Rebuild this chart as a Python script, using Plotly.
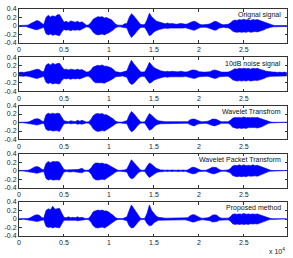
import plotly.graph_objects as go
from plotly.subplots import make_subplots

# sample index (every 250 samples)
sample_index = list(range(0, 30000, 250))

panel_titles = ["Orignal signal", "10dB noise signal", "Wavelet Transfrom",
                "Wavelet Packet Transform", "Proposed method"]

x_tick_vals = [0, 5000, 10000, 15000, 20000, 25000]
x_tick_text = ["0", "0.5", "1", "1.5", "2", "2.5"]
y_tick_vals = [-0.4, -0.2, 0, 0.2, 0.4]
y_tick_text = ["-0.4", "-0.2", "0", "0.2", "0.4"]

# upper / lower envelopes
orig_upper = [0.01,0.01,0.01,0.01,0.02,0.05,0.08,0.10,0.13,0.11,
              0.06,0.03,0.20,0.25,0.21,0.24,0.22,0.26,0.27,0.17,
              0.09,0.11,0.08,0.12,0.10,0.09,0.11,0.08,0.10,0.06,
              0.02,0.03,0.08,0.16,0.20,0.22,0.21,0.22,0.19,0.20,
              0.17,0.15,0.10,0.04,0.02,0.02,0.02,0.05,0.06,0.20,
              0.29,0.24,0.18,0.10,0.04,0.03,0.04,0.15,0.30,0.22,
              0.16,0.12,0.10,0.08,0.06,0.05,0.07,0.05,0.06,0.05,
              0.04,0.05,0.06,0.05,0.04,0.05,0.08,0.10,0.11,0.09,
              0.05,0.03,0.03,0.03,0.04,0.05,0.09,0.11,0.10,0.06,
              0.04,0.03,0.04,0.04,0.07,0.12,0.14,0.13,0.15,0.14,
              0.16,0.14,0.15,0.13,0.15,0.14,0.15,0.13,0.12,0.10,
              0.07,0.05,0.03,0.02,0.01,0.01,0.01,0.01,0.01,0.01]
orig_lower = [-0.01,-0.01,-0.01,-0.01,-0.02,-0.04,-0.06,-0.08,-0.09,-0.08,
              -0.05,-0.03,-0.18,-0.21,-0.19,-0.22,-0.20,-0.21,-0.23,-0.14,
              -0.08,-0.10,-0.09,-0.11,-0.09,-0.10,-0.09,-0.10,-0.08,-0.05,
              -0.02,-0.03,-0.07,-0.15,-0.19,-0.21,-0.20,-0.19,-0.21,-0.18,
              -0.16,-0.13,-0.09,-0.04,-0.02,-0.02,-0.02,-0.04,-0.05,-0.18,
              -0.27,-0.22,-0.17,-0.09,-0.04,-0.03,-0.04,-0.13,-0.23,-0.20,
              -0.14,-0.11,-0.09,-0.07,-0.06,-0.05,-0.06,-0.05,-0.05,-0.05,
              -0.04,-0.05,-0.05,-0.05,-0.04,-0.05,-0.07,-0.09,-0.10,-0.08,
              -0.05,-0.03,-0.03,-0.03,-0.04,-0.05,-0.08,-0.10,-0.09,-0.05,
              -0.04,-0.03,-0.04,-0.04,-0.07,-0.12,-0.14,-0.15,-0.14,-0.15,
              -0.14,-0.15,-0.13,-0.15,-0.14,-0.13,-0.14,-0.12,-0.11,-0.09,
              -0.06,-0.04,-0.03,-0.02,-0.01,-0.01,-0.01,-0.01,-0.01,-0.01]

noisy_upper = [0.04,0.05,0.04,0.05,0.05,0.07,0.09,0.11,0.12,0.11,
               0.07,0.06,0.21,0.25,0.22,0.26,0.23,0.25,0.26,0.18,
               0.11,0.12,0.10,0.12,0.11,0.10,0.12,0.10,0.11,0.08,
               0.05,0.06,0.10,0.17,0.20,0.21,0.20,0.22,0.19,0.19,
               0.17,0.15,0.11,0.06,0.05,0.04,0.05,0.06,0.08,0.22,
               0.33,0.25,0.19,0.11,0.06,0.05,0.06,0.16,0.28,0.22,
               0.16,0.13,0.10,0.08,0.07,0.06,0.07,0.06,0.07,0.06,
               0.06,0.06,0.07,0.06,0.05,0.06,0.08,0.10,0.10,0.09,
               0.06,0.05,0.05,0.05,0.05,0.06,0.09,0.10,0.09,0.07,
               0.05,0.05,0.05,0.05,0.07,0.11,0.13,0.12,0.14,0.13,
               0.14,0.13,0.14,0.12,0.14,0.13,0.14,0.12,0.11,0.09,
               0.07,0.06,0.05,0.05,0.05,0.04,0.05,0.04,0.05,0.04]
noisy_lower = [-0.04,-0.04,-0.05,-0.04,-0.05,-0.06,-0.07,-0.09,-0.10,-0.09,
               -0.07,-0.05,-0.19,-0.22,-0.20,-0.23,-0.21,-0.22,-0.23,-0.15,
               -0.10,-0.11,-0.10,-0.12,-0.10,-0.11,-0.10,-0.11,-0.09,-0.07,
               -0.05,-0.05,-0.09,-0.16,-0.20,-0.21,-0.20,-0.20,-0.21,-0.18,
               -0.16,-0.14,-0.10,-0.06,-0.05,-0.05,-0.04,-0.06,-0.07,-0.19,
               -0.24,-0.22,-0.17,-0.10,-0.06,-0.05,-0.06,-0.14,-0.21,-0.19,
               -0.14,-0.12,-0.10,-0.08,-0.07,-0.06,-0.07,-0.06,-0.06,-0.06,
               -0.05,-0.06,-0.06,-0.06,-0.05,-0.06,-0.08,-0.09,-0.10,-0.08,
               -0.06,-0.05,-0.05,-0.05,-0.05,-0.06,-0.08,-0.10,-0.09,-0.06,
               -0.05,-0.05,-0.05,-0.05,-0.08,-0.13,-0.15,-0.16,-0.15,-0.16,
               -0.15,-0.16,-0.14,-0.16,-0.15,-0.14,-0.15,-0.13,-0.12,-0.10,
               -0.07,-0.06,-0.05,-0.05,-0.04,-0.05,-0.04,-0.05,-0.04,-0.04]

wt_upper = [0.005,0.005,0.005,0.005,0.01,0.03,0.06,0.08,0.09,0.08,
            0.04,0.02,0.18,0.22,0.20,0.22,0.20,0.22,0.21,0.13,
            0.04,0.03,0.02,0.04,0.03,0.02,0.05,0.03,0.05,0.02,
            0.01,0.02,0.07,0.16,0.20,0.21,0.20,0.21,0.18,0.18,
            0.15,0.12,0.08,0.03,0.01,0.01,0.01,0.03,0.04,0.17,
            0.26,0.21,0.15,0.07,0.02,0.01,0.02,0.12,0.21,0.17,
            0.11,0.07,0.04,0.03,0.02,0.02,0.02,0.02,0.02,0.02,
            0.02,0.02,0.02,0.02,0.02,0.02,0.06,0.08,0.08,0.06,
            0.03,0.02,0.02,0.02,0.03,0.05,0.08,0.08,0.07,0.04,
            0.02,0.02,0.02,0.02,0.05,0.10,0.12,0.11,0.12,0.11,
            0.13,0.11,0.12,0.11,0.12,0.11,0.12,0.10,0.09,0.07,
            0.04,0.02,0.01,0.005,0.005,0.005,0.005,0.005,0.005,0.005]
wt_lower = [-0.005,-0.005,-0.005,-0.005,-0.01,-0.02,-0.04,-0.05,-0.06,-0.05,
            -0.03,-0.02,-0.16,-0.19,-0.18,-0.20,-0.19,-0.19,-0.21,-0.12,
            -0.03,-0.03,-0.02,-0.03,-0.03,-0.02,-0.04,-0.03,-0.04,-0.02,
            -0.01,-0.02,-0.06,-0.15,-0.19,-0.21,-0.20,-0.19,-0.20,-0.17,
            -0.14,-0.11,-0.07,-0.03,-0.01,-0.01,-0.01,-0.02,-0.03,-0.15,
            -0.22,-0.19,-0.14,-0.06,-0.02,-0.01,-0.02,-0.11,-0.18,-0.16,
            -0.10,-0.06,-0.04,-0.03,-0.02,-0.02,-0.02,-0.02,-0.02,-0.02,
            -0.02,-0.02,-0.02,-0.02,-0.02,-0.02,-0.05,-0.07,-0.08,-0.05,
            -0.03,-0.02,-0.02,-0.02,-0.03,-0.04,-0.07,-0.08,-0.07,-0.04,
            -0.02,-0.02,-0.02,-0.02,-0.05,-0.11,-0.13,-0.14,-0.13,-0.14,
            -0.13,-0.14,-0.12,-0.13,-0.12,-0.12,-0.13,-0.11,-0.10,-0.07,
            -0.04,-0.02,-0.01,-0.005,-0.005,-0.005,-0.005,-0.005,-0.005,-0.005]

wpt_upper = [0.005,0.005,0.005,0.005,0.01,0.03,0.07,0.09,0.10,0.08,
             0.04,0.02,0.17,0.22,0.19,0.22,0.21,0.22,0.20,0.12,
             0.03,0.02,0.02,0.03,0.02,0.02,0.03,0.04,0.06,0.02,
             0.01,0.02,0.06,0.14,0.18,0.18,0.17,0.18,0.16,0.16,
             0.13,0.10,0.07,0.03,0.01,0.01,0.01,0.02,0.04,0.17,
             0.26,0.20,0.14,0.06,0.02,0.01,0.02,0.11,0.18,0.15,
             0.10,0.06,0.04,0.02,0.02,0.01,0.02,0.01,0.02,0.01,
             0.01,0.02,0.01,0.02,0.01,0.02,0.06,0.08,0.08,0.05,
             0.02,0.01,0.01,0.01,0.03,0.05,0.08,0.08,0.07,0.03,
             0.01,0.01,0.01,0.02,0.05,0.11,0.13,0.12,0.14,0.12,
             0.14,0.12,0.13,0.12,0.14,0.12,0.13,0.11,0.09,0.07,
             0.04,0.02,0.01,0.005,0.005,0.005,0.005,0.005,0.005,0.005]
wpt_lower = [-0.005,-0.005,-0.005,-0.005,-0.01,-0.02,-0.04,-0.05,-0.06,-0.05,
             -0.03,-0.02,-0.18,-0.22,-0.20,-0.22,-0.21,-0.21,-0.22,-0.13,
             -0.03,-0.02,-0.02,-0.03,-0.02,-0.02,-0.03,-0.04,-0.05,-0.02,
             -0.01,-0.02,-0.07,-0.17,-0.21,-0.22,-0.21,-0.20,-0.21,-0.18,
             -0.15,-0.11,-0.07,-0.03,-0.01,-0.01,-0.01,-0.02,-0.03,-0.14,
             -0.19,-0.17,-0.12,-0.05,-0.02,-0.01,-0.02,-0.10,-0.16,-0.14,
             -0.09,-0.05,-0.03,-0.02,-0.02,-0.01,-0.02,-0.01,-0.02,-0.01,
             -0.01,-0.02,-0.01,-0.02,-0.01,-0.02,-0.05,-0.07,-0.07,-0.05,
             -0.02,-0.01,-0.01,-0.01,-0.03,-0.04,-0.07,-0.07,-0.06,-0.03,
             -0.01,-0.01,-0.01,-0.02,-0.05,-0.11,-0.13,-0.14,-0.13,-0.14,
             -0.13,-0.14,-0.12,-0.13,-0.13,-0.12,-0.13,-0.11,-0.09,-0.06,
             -0.04,-0.02,-0.01,-0.005,-0.005,-0.005,-0.005,-0.005,-0.005,-0.005]

prop_upper = [0.005,0.005,0.005,0.005,0.01,0.03,0.07,0.09,0.10,0.09,
              0.04,0.02,0.20,0.24,0.22,0.30,0.23,0.24,0.25,0.14,
              0.04,0.03,0.05,0.03,0.04,0.03,0.05,0.03,0.04,0.02,
              0.01,0.02,0.08,0.17,0.20,0.21,0.20,0.21,0.19,0.19,
              0.16,0.13,0.08,0.03,0.01,0.01,0.01,0.03,0.05,0.20,
              0.33,0.25,0.17,0.08,0.02,0.01,0.02,0.14,0.33,0.20,
              0.12,0.07,0.04,0.03,0.02,0.02,0.02,0.02,0.02,0.02,
              0.02,0.02,0.02,0.02,0.02,0.03,0.07,0.10,0.10,0.07,
              0.03,0.02,0.02,0.02,0.03,0.05,0.09,0.10,0.09,0.04,
              0.02,0.02,0.02,0.02,0.05,0.11,0.12,0.11,0.12,0.11,
              0.13,0.11,0.12,0.11,0.12,0.11,0.12,0.10,0.09,0.07,
              0.04,0.02,0.01,0.005,0.005,0.005,0.005,0.005,0.005,0.005]
prop_lower = [-0.005,-0.005,-0.005,-0.005,-0.01,-0.02,-0.04,-0.05,-0.06,-0.05,
              -0.03,-0.02,-0.17,-0.20,-0.19,-0.21,-0.19,-0.20,-0.21,-0.12,
              -0.03,-0.03,-0.04,-0.03,-0.03,-0.03,-0.04,-0.03,-0.03,-0.02,
              -0.01,-0.02,-0.07,-0.16,-0.20,-0.21,-0.20,-0.19,-0.21,-0.18,
              -0.15,-0.12,-0.07,-0.03,-0.01,-0.01,-0.01,-0.02,-0.04,-0.16,
              -0.21,-0.20,-0.14,-0.07,-0.02,-0.01,-0.02,-0.11,-0.16,-0.15,
              -0.09,-0.06,-0.03,-0.02,-0.02,-0.02,-0.02,-0.02,-0.02,-0.02,
              -0.02,-0.02,-0.02,-0.02,-0.02,-0.03,-0.05,-0.07,-0.07,-0.05,
              -0.03,-0.02,-0.02,-0.02,-0.03,-0.04,-0.07,-0.07,-0.06,-0.03,
              -0.02,-0.02,-0.02,-0.02,-0.05,-0.11,-0.13,-0.12,-0.13,-0.12,
              -0.13,-0.12,-0.13,-0.11,-0.12,-0.11,-0.12,-0.10,-0.08,-0.06,
              -0.04,-0.02,-0.01,-0.005,-0.005,-0.005,-0.005,-0.005,-0.005,-0.005]

envelopes = [(orig_upper, orig_lower), (noisy_upper, noisy_lower),
             (wt_upper, wt_lower), (wpt_upper, wpt_lower),
             (prop_upper, prop_lower)]

W, H = 293, 258
ML, MR, MT, MB = 17, 5, 5, 22
VSP = 0.0628

fig = make_subplots(rows=5, cols=1, vertical_spacing=VSP)

BLUE = "rgb(0,0,255)"
for i, (up, lo) in enumerate(envelopes):
    xs = sample_index + sample_index[::-1]
    ys = up + lo[::-1]
    fig.add_trace(go.Scatter(x=xs, y=ys, mode="lines", fill="toself",
                             fillcolor=BLUE, line=dict(color=BLUE, width=0.6),
                             hoverinfo="skip", showlegend=False),
                  row=i + 1, col=1)

FONT = "Liberation Sans, Arial, sans-serif"
axis_font = dict(family=FONT, size=7, color="#222")
for i in range(5):
    fig.update_xaxes(range=[0, 29800], tickvals=x_tick_vals, ticktext=x_tick_text,
                     ticks="inside", ticklen=2.5, tickcolor="#333", showline=True,
                     linecolor="#333", linewidth=1, mirror="ticks", showgrid=False,
                     zeroline=False, tickfont=axis_font, row=i + 1, col=1)
    fig.update_yaxes(range=[-0.4, 0.4], tickvals=y_tick_vals, ticktext=y_tick_text,
                     ticks="inside", ticklen=2.5, tickcolor="#333", showline=True,
                     linecolor="#333", linewidth=1, mirror="ticks", showgrid=False,
                     zeroline=False, tickfont=axis_font, row=i + 1, col=1)

plot_h = H - MT - MB
row_h = (1 - 4 * VSP) / 5
for i, title in enumerate(panel_titles):
    top = 1 - i * (row_h + VSP)
    fig.add_annotation(text=title, xref="paper", yref="paper",
                       x=(283 - ML) / (W - ML - MR), y=top - 1.5 / plot_h,
                       xanchor="right", yanchor="top", showarrow=False,
                       borderpad=0,
                       font=dict(family=FONT, size=7, color="#111"))

fig.add_annotation(text="x 10<sup>4</sup>", xref="paper", yref="paper",
                   x=1.0, y=-15 / plot_h, xanchor="right", yanchor="middle",
                   showarrow=False,
                   font=dict(family=FONT, size=7, color="#222"))

fig.update_layout(width=W, height=H, margin=dict(l=ML, r=MR, t=MT, b=MB),
                  paper_bgcolor="white", plot_bgcolor="white")

fig.write_html("out.html")
